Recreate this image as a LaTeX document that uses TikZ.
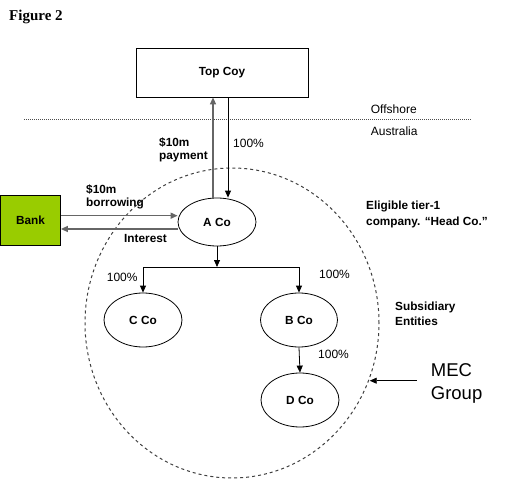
\documentclass[tikz,border=0pt]{standalone}
\usepackage{fontspec}
\setmainfont{Liberation Sans}
\newfontfamily\serifbold{Liberation Serif}
\usetikzlibrary{shapes.geometric,arrows.meta}
\definecolor{bankgreen}{HTML}{99CC00}
\begin{document}
\begin{tikzpicture}[x=1pt,y=-1pt,
  lbl/.style={inner sep=0pt,anchor=west,align=left,font=\fontsize{11.8}{13}\selectfont\bfseries},
  plain/.style={inner sep=0pt,anchor=west,align=left,font=\fontsize{12}{15}\selectfont},
  coy/.style={draw,ellipse,line width=0.8pt,inner sep=0pt,font=\fontsize{11.8}{13}\selectfont\bfseries},
  tip/.style={-{Triangle[length=7pt,width=6pt]}},
  own/.style={tip,line width=0.8pt},
  flowline/.style={tip,draw=black!60,line width=1.5pt},
  mecline/.style={draw=black!75,dash pattern=on 3pt off 3pt,line width=1pt}]
\useasboundingbox (0,0) rectangle (514,500);
\node[inner sep=0pt,anchor=west,font=\fontsize{15}{17}\selectfont\serifbold\bfseries] (fig) at (9,17) {Figure 2};
\node[draw,line width=0.8pt,minimum width=172pt,minimum height=49pt,inner sep=0pt,font=\fontsize{11.8}{13}\selectfont\bfseries] (top) at (222,72.5) {Top Coy};
\coordinate (dl) at (24,119.3);
\coordinate (dr) at (472,119.3);
\draw[black!70,dash pattern=on 1pt off 1pt,line width=0.9pt] (dl) -- (dr);
\node[plain] (off) at (370.7,109) {Offshore};
\node[plain] (aus) at (370.7,131) {Australia};
\node[mecline,ellipse,minimum width=294pt,minimum height=310pt,inner sep=0pt] (mec) at (232,323) {};
\node[draw,line width=0.8pt,fill=bankgreen,minimum width=60pt,minimum height=50pt,inner sep=0pt,font=\fontsize{11.8}{13}\selectfont\bfseries] (bank) at (30.5,220) {Bank};
\node[coy,minimum width=78pt,minimum height=48pt] (aco) at (217,222) {A Co};
\node[coy,minimum width=78pt,minimum height=54pt] (cco) at (143,320) {C Co};
\node[coy,minimum width=77pt,minimum height=54pt] (bco) at (299,320) {B Co};
\node[coy,minimum width=78pt,minimum height=54pt] (dco) at (300,400) {D Co};
% payment and ownership
\draw[flowline] ([xshift=-4pt]aco.north) -- ([xshift=-4pt]aco.north |- top.south);
\draw[own] ([xshift=6pt]top.south) -- ([xshift=6pt]top.south |- aco.north);
\node[lbl] (pay) at (159,149.5) {\$10m\\payment};
\node[plain] (p1) at (233,143) {100\%};
% bank flows
\draw[flowline] ([yshift=4.3pt]bank.east) -- ([yshift=4.3pt]bank.east -| aco.west);
\draw[flowline] ([yshift=-9pt]bank.east -| aco.west) -- ([yshift=-9pt]bank.east);
\node[lbl,font=\fontsize{11.8}{12.5}\selectfont\bfseries] (bor) at (86,197) {\$10m\\borrowing};
\node[lbl] (int) at (124,238) {Interest};
% tree
\coordinate (j) at (217,267);
\draw[own] (aco.south) -- (j);
\draw[line width=0.8pt] (cco.north |- j) -- (bco.north |- j);
\draw[own] (cco.north |- j) -- (cco.north);
\draw[own] (bco.north |- j) -- (bco.north);
\draw[own] (bco.south) -- (dco.north);
\node[plain] (p2) at (106.7,277) {100\%};
\node[plain] (p3) at (319,274) {100\%};
\node[plain] (p4) at (318,354) {100\%};
% side labels
\node[lbl,font=\fontsize{11.8}{15.3}\selectfont\bfseries] (elig) at (366,214.3) {Eligible tier-1\\company. “Head Co.”};
\node[lbl,font=\fontsize{11.8}{15}\selectfont\bfseries] (subs) at (395,313.5) {Subsidiary\\Entities};
\node[inner sep=0pt,anchor=west,align=left,font=\fontsize{18.5}{23.3}\selectfont] (mectxt) at (430.7,383.3) {MEC\\Group};
\coordinate (ms) at (416.7,380.7);
\draw[own] (ms) -- (ms -| mec.-22.8);
\end{tikzpicture}
\end{document}
